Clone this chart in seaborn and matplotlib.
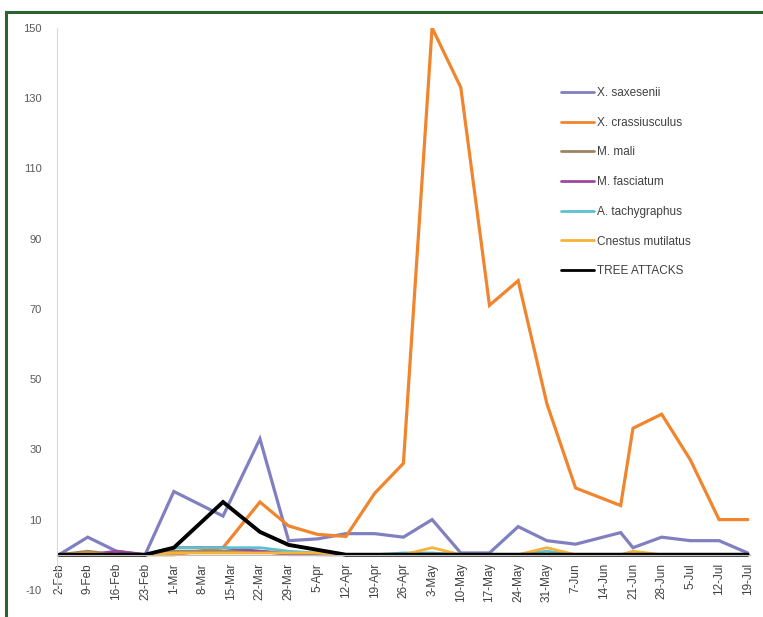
import matplotlib
matplotlib.use('Agg')
import matplotlib.pyplot as plt
import seaborn as sns
import pandas as pd
from matplotlib.patches import Rectangle

# ---- data ----
dates = ['2012-02-02', '2012-02-09', '2012-02-16', '2012-02-23', '2012-03-01',
         '2012-03-13', '2012-03-22', '2012-03-29', '2012-04-05', '2012-04-12',
         '2012-04-19', '2012-04-26', '2012-05-03', '2012-05-10', '2012-05-17',
         '2012-05-24', '2012-05-31', '2012-06-07', '2012-06-18', '2012-06-21',
         '2012-06-28', '2012-07-05', '2012-07-12', '2012-07-19']

x_saxesenii     = [0, 5, 1, 0, 18, 11, 33, 4, 4.5, 6, 6, 5, 10, 0.5, 0.5, 8, 4, 3, 6.3, 2, 5, 4, 4, 0.5]
x_crassiusculus = [0, 0, 0, 0, 0, 2, 15, 8.2, 5.8, 5.2, 17.5, 26, 150, 133, 71, 78, 43, 19, 14, 36, 40, 27, 10, 10]
m_mali          = [0, 1, 0, 0, 1, 1, 1, 0.5, 0, 0, 0, 0, 0, 0, 0, 0, 0, 0, 0, 0, 0, 0, 0, 0]
m_fasciatum     = [0, 0, 1, 0, 2, 2, 1, 0, 0, 0, 0, 0, 0, 0, 0, 0, 0, 0, 0, 0, 0, 0, 0, 0]
a_tachygraphus  = [0, 0, 0, 0, 2, 2, 2, 1, 0.5, 0, 0, 0.5, 0.5, 0, 0, 0, 1, 0, 0, 0, 0, 0, 0, 0]
cnestus         = [0, 0.5, 0, 0, 0.5, 0.5, 0.5, 0.5, 0.5, 0, 0, 0, 2, 0, 0, 0, 2, 0, 0, 1, 0, 0, 0, 0]
tree_attacks    = [0, 0, 0, 0, 2, 15, 6.5, 2.8, 1.4, 0, 0, 0, 0, 0, 0, 0, 0, 0, 0, 0, 0, 0, 0, 0]

series_names = ['X. saxesenii', 'X. crassiusculus', 'M. mali', 'M. fasciatum',
                'A. tachygraphus', 'Cnestus mutilatus', 'TREE ATTACKS']
series_values = [x_saxesenii, x_crassiusculus, m_mali, m_fasciatum,
                 a_tachygraphus, cnestus, tree_attacks]
series_colors = ['#8080C0', '#F0852D', '#9C8460', '#9B4A9B', '#5BC0D0', '#F5B33A', '#000000']
series_widths = [2.3, 2.3, 2.0, 2.0, 2.0, 2.0, 2.8]

tick_dates = pd.date_range('2012-02-02', '2012-07-19', freq='7D')
tick_labels = ['2-Feb', '9-Feb', '16-Feb', '23-Feb', '1-Mar', '8-Mar', '15-Mar', '22-Mar',
               '29-Mar', '5-Apr', '12-Apr', '19-Apr', '26-Apr', '3-May', '10-May', '17-May',
               '24-May', '31-May', '7-Jun', '14-Jun', '21-Jun', '28-Jun', '5-Jul', '12-Jul', '19-Jul']
y_ticks = [-10, 10, 30, 50, 70, 90, 110, 130, 150]

# ---- plot ----
sns.set_style('white')
plt.rcParams['font.family'] = ['Liberation Sans', 'DejaVu Sans']

fig = plt.figure(figsize=(7.63, 6.17), dpi=100)
ax = fig.add_axes([0.0747, 0.044, 0.908, 0.911])

rows = []
for name, vals in zip(series_names, series_values):
    for d, v in zip(dates, vals):
        rows.append({'date': pd.Timestamp(d), 'count': v, 'species': name})
df = pd.DataFrame(rows)

for name, col, lw in zip(series_names, series_colors, series_widths):
    sns.lineplot(data=df[df['species'] == name], x='date', y='count', color=col,
                 linewidth=lw, label=name, ax=ax, solid_joinstyle='miter')

ax.set_ylim(-10, 150)
ax.set_xlim(pd.Timestamp('2012-02-02') - pd.Timedelta(days=0.5),
            pd.Timestamp('2012-07-19') + pd.Timedelta(days=0.5))
ax.set_yticks(y_ticks)
ax.set_yticklabels([str(t) for t in y_ticks])
ax.set_xticks(tick_dates)
ax.set_xticklabels(tick_labels)
ax.set_xlabel('')
ax.set_ylabel('')

ax.spines['top'].set_visible(False)
ax.spines['right'].set_visible(False)
ax.spines['left'].set_color('#D9D9D9')
ax.spines['bottom'].set_position(('data', 0))
ax.spines['bottom'].set_color('#BFBFBF')
ax.tick_params(axis='y', length=3, color='#D9D9D9', labelsize=8, labelcolor='#595959', pad=8)
ax.tick_params(axis='x', length=0, labelsize=8.5, labelcolor='#404040', pad=6, labelrotation=90)
for lbl in ax.get_xticklabels():
    lbl.set_rotation(90)
    lbl.set_ha('center')
    lbl.set_va('top')

leg = ax.legend(loc='upper left', bbox_to_anchor=(0.735, 0.859), bbox_transform=fig.transFigure,
                frameon=False, fontsize=8.5, handlelength=2.8, handletextpad=0.25,
                labelspacing=1.5, borderpad=0, borderaxespad=0)
for t in leg.get_texts():
    t.set_color('#404040')
for h in leg.get_lines():
    h.set_linewidth(2.0)

# green frame around the chart
fig.patches.append(Rectangle((6 / 763, -0.05), 1.2, 1 - 12 / 617 + 0.05, transform=fig.transFigure,
                             fill=False, edgecolor='#2B6430', linewidth=2.2, zorder=10))

fig.savefig('out.png', dpi=100)
